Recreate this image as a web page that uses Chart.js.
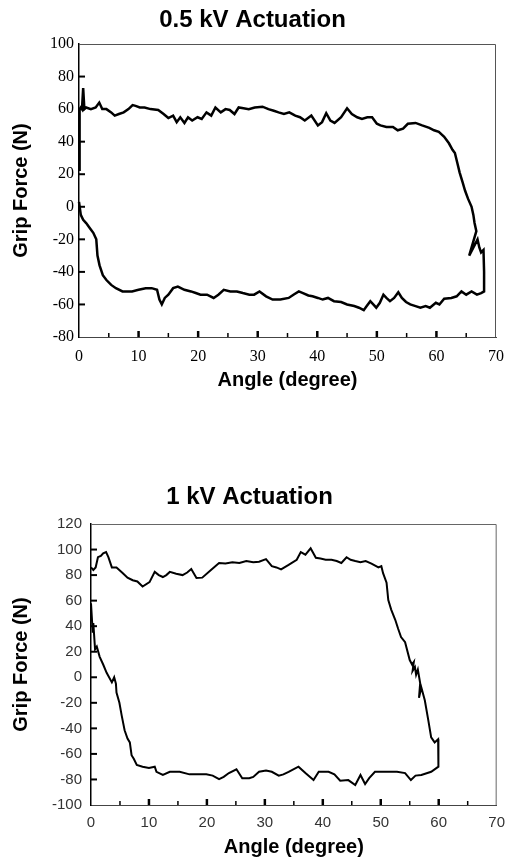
<!DOCTYPE html>
<html>
<head>
<meta charset="utf-8">
<script src="https://cdn.jsdelivr.net/npm/chart.js@4.4.1/dist/chart.umd.min.js"></script>
<style>
  body { margin: 0; background: #fff; width: 514px; height: 860px; overflow: hidden; }
  .caja { position: absolute; left: 0; width: 514px; height: 430px; }
</style>
</head>
<body>
<div class="caja" style="top:0"><canvas id="chartMedio"></canvas></div>
<div class="caja" style="top:430px"><canvas id="chartUno"></canvas></div>
<script>
// 0.5 kV loop (angle in degrees, grip force in N)
const anguloMedio = [
  0.1, 0.1, 0.3, 0.5, 0.7, 0.9, 1.2, 2.0, 2.8, 3.4,
  3.9, 4.6, 5.4, 6.0, 6.7, 7.5, 8.3, 9.0, 9.5, 10.2,
  11.0, 12.0, 13.3, 14.2, 15.0, 15.8, 16.4, 17.0, 17.7, 18.3,
  19.0, 19.9, 20.6, 21.4, 22.2, 22.9, 23.8, 24.6, 25.3, 26.1,
  26.8, 27.6, 28.5, 29.5, 30.8, 31.8, 32.7, 33.5, 34.4, 35.3,
  36.3, 37.1, 37.9, 39.0, 40.1, 40.8, 41.5, 42.2, 42.9, 44.0,
  45.0, 45.8, 46.7, 47.5, 48.4, 49.2, 50.0, 50.6, 51.6, 52.7,
  53.5, 54.4, 55.2, 56.5, 57.6, 58.8, 59.6, 60.4, 61.3, 62.1,
  62.7, 63.1, 63.5, 63.9, 64.4, 64.8, 65.3, 65.9, 66.2, 66.4,
  66.7, 65.5, 66.9, 67.2, 67.5, 67.9, 68.0, 68.0, 67.5, 66.8,
  65.9, 65.0, 64.2, 63.4, 62.5, 61.3, 60.5, 59.9, 58.9, 58.2,
  57.3, 56.5, 55.6, 54.9, 54.2, 53.6, 52.9, 52.2, 51.6, 51.1,
  50.5, 49.9, 49.4, 48.9, 48.3, 47.8, 47.0, 46.2, 45.0, 44.0,
  42.8, 41.8, 40.9, 40.1, 39.2, 38.5, 37.6, 36.9, 36.0, 35.2,
  33.8, 32.5, 31.4, 30.3, 29.4, 28.6, 27.5, 26.5, 25.4, 24.3,
  23.4, 22.6, 21.5, 20.4, 19.6, 18.8, 17.7, 16.6, 15.8, 15.0,
  14.4, 13.9, 13.5, 13.1, 12.2, 11.2, 10.0, 8.9, 8.0, 7.3,
  6.2, 5.4, 4.6, 4.0, 3.45, 3.1, 2.9, 2.4, 1.8, 1.2,
  0.7, 0.3, 0.0
];
const fuerzaMedio = [
  22, 60, 61, 60, 73, 60, 61, 60, 61, 64,
  60, 60, 58, 56, 57, 58, 60, 62.5, 62, 61,
  61, 60, 59.5, 57, 54.5, 56, 52, 55, 51.5, 55,
  53, 55, 54, 58, 56, 61, 58, 60, 59.5, 57,
  61, 60.5, 60, 61, 61.5, 60, 59, 58, 57, 58,
  56, 55, 53, 56, 50, 52, 57.5, 53, 51.5, 55,
  60.5, 57, 55, 54, 55, 55, 51, 50, 49, 49,
  47, 48, 51, 51.5, 50, 48.5, 47, 46, 43, 39,
  35, 33, 27, 21, 15, 10, 5, 0, -5, -10,
  -15, -30, -20, -25, -28, -26.5, -40, -52, -53, -54,
  -52, -54, -52, -55, -56, -56.5, -60, -59, -62, -61,
  -62, -61, -60, -58.5, -56, -52.5, -56, -58, -56, -54,
  -59, -62, -60, -58, -61, -63.5, -62, -61, -60, -58.5,
  -58, -56, -57, -56, -55, -54.5, -53, -52, -54, -56,
  -57, -57, -55, -52, -54, -54, -53, -52, -52, -51,
  -54, -56, -54, -54, -53, -52, -51, -49, -50, -54,
  -56, -60, -57, -51, -50, -50, -51, -52, -52, -52,
  -50, -48, -45, -42, -36, -30, -20, -16, -13, -10,
  -8, -5, 3
];

// 1 kV loop
const anguloUno = [
  0.0, 0.4, 0.8, 1.2, 1.7, 2.1, 2.6, 3.0, 3.6, 4.4,
  5.5, 6.3, 7.2, 8.0, 8.9, 10.1, 11.0, 11.7, 12.4, 13.0,
  13.6, 14.7, 15.8, 16.6, 17.3, 18.2, 19.2, 20.7, 22.1, 23.2,
  24.4, 25.6, 26.8, 28.0, 29.0, 30.2, 31.2, 32.0, 32.8, 34.1,
  35.5, 36.2, 37.0, 37.9, 38.8, 39.6, 40.5, 41.5, 42.4, 43.2,
  44.1, 44.8, 45.6, 46.5, 47.4, 48.4, 49.6, 50.1, 50.4, 51.0,
  51.3, 51.8, 52.5, 53.0, 53.5, 54.2, 55.0, 55.4, 55.7, 55.5,
  55.9, 56.1, 56.4, 56.8, 56.6, 57.0, 57.6, 58.2, 58.7, 59.3,
  59.9, 60.0, 59.9, 58.7, 57.0, 56.0, 55.2, 54.2, 52.8, 51.8,
  50.5, 49.0, 48.0, 47.3, 46.5, 45.6, 44.4, 43.0, 42.0, 41.0,
  40.0, 39.3, 38.4, 37.0, 35.8, 34.1, 33.2, 32.4, 31.2, 30.2,
  29.0, 28.0, 27.3, 26.1, 25.1, 23.8, 22.9, 22.1, 21.0, 19.9,
  18.5, 17.0, 15.3, 13.6, 12.4, 11.3, 11.0, 10.0, 8.9, 7.9,
  7.4, 7.0, 6.7, 6.3, 5.8, 5.3, 4.9, 4.4, 4.3, 4.0,
  3.6, 2.7, 2.1, 1.5, 1.0, 0.7, 0.4, 0.3, 0.0
];
const fuerzaUno = [
  86, 84, 86, 94, 95, 97, 98, 94, 86, 86,
  81.5, 78, 76, 75, 71, 74.5, 82.5, 80, 78.5, 80,
  82.5, 81, 80, 82, 84.7, 77.7, 78, 84, 89.5, 89,
  90, 89.5, 91, 90, 90.5, 92.5, 87, 86, 84.5, 88,
  92, 98, 96, 101, 93.5, 93, 92, 92, 91, 89.5,
  94, 92, 91, 90, 91, 89, 86, 87, 81.5, 74,
  60.5, 53, 45, 38, 31.5, 27.5, 13.5, 10, 12, 5,
  8, 2, 6, -4.5, -16, -8, -18, -33.5, -47, -51,
  -48.5, -70, -70, -74, -76.5, -77, -80.5, -75, -74, -74,
  -74, -74, -79, -83.6, -76.5, -84.4, -80.5, -81, -76, -74,
  -74, -74, -80.5, -75, -70, -74, -76, -77, -74, -73,
  -74, -78, -79, -79, -72, -75, -78, -79.7, -77, -76,
  -76, -76, -74, -74, -76.5, -74, -70, -71, -70, -68.7,
  -64, -61, -51, -48, -41.5, -30, -20, -12, -5, 0,
  -4, 3.5, 10, 16, 24, 22, 42.5, 35, 58
];

const marcoTicks = {
  id: 'marcoTicks',
  afterDatasetsDraw(chart, args, opts) {
    const {ctx, chartArea: a, scales: {x, y}} = chart;
    ctx.save();
    ctx.strokeStyle = opts.frame;
    ctx.lineWidth = 1;
    ctx.beginPath();
    ctx.moveTo(a.left, a.top + 0.5);
    ctx.lineTo(a.right - 0.5, a.top + 0.5);
    ctx.lineTo(a.right - 0.5, a.bottom);
    ctx.stroke();
    ctx.strokeStyle = '#000';
    for (let v = x.min + 5; v < x.max; v += 5) {
      const px = x.getPixelForValue(v);
      const mayor = v % 10 === 0;
      ctx.lineWidth = mayor ? 2.5 : 1.5;
      ctx.beginPath();
      ctx.moveTo(px, a.bottom);
      ctx.lineTo(px, a.bottom - (mayor ? 6 : 4));
      ctx.stroke();
    }
    ctx.lineWidth = 2;
    y.ticks.forEach(t => {
      if (t.value === y.min || t.value === y.max) return;
      const py = y.getPixelForValue(t.value);
      ctx.beginPath();
      ctx.moveTo(a.left, py);
      ctx.lineTo(a.left + 6, py);
      ctx.stroke();
    });
    ctx.restore();
  }
};

function crear(id, conf) {
  const datos = conf.angulos.map((a, i) => ({x: a, y: conf.fuerzas[i]}));
  return new Chart(document.getElementById(id), {
    type: 'scatter',
    data: {
      datasets: [{
        data: datos,
        showLine: true,
        borderColor: '#000',
        borderWidth: conf.grosor,
        pointRadius: 0,
        tension: 0,
        clip: 4
      }]
    },
    plugins: [marcoTicks],
    options: {
      responsive: true,
      maintainAspectRatio: false,
      animation: false,
      layout: {padding: {left: 0, right: conf.derecha, top: 0, bottom: 0}},
      plugins: {
        legend: {display: false},
        tooltip: {enabled: false},
        title: {
          display: true,
          text: conf.titulo,
          color: '#000',
          font: {family: 'Liberation Sans', size: 24, weight: 'bold'},
          padding: conf.tituloPad
        },
        marcoTicks: {frame: conf.marco}
      },
      scales: {
        x: {
          type: 'linear', min: 0, max: 70,
          ticks: {stepSize: 10, color: conf.colorTicks, font: conf.fuenteTicks, padding: conf.padX, maxRotation: 0},
          grid: {drawOnChartArea: false, drawTicks: false},
          border: {color: conf.ejeX, width: 1},
          title: {
            display: true, text: 'Angle (degree)', color: '#000',
            font: {family: 'Liberation Sans', size: 20, weight: 'bold'},
            padding: {top: 0, bottom: conf.padTituloX}
          },
          afterFit: s => { s.height = conf.altoX; }
        },
        y: {
          type: 'linear', min: conf.yMin, max: conf.yMax,
          ticks: {stepSize: 20, color: conf.colorTicks, font: conf.fuenteTicks, padding: conf.padY},
          grid: {drawOnChartArea: false, drawTicks: false},
          border: {color: '#000', width: 1.5},
          title: {
            display: true, text: 'Grip Force (N)', color: '#000',
            font: {family: 'Liberation Sans', size: 20, weight: 'bold'},
            padding: {top: 9, bottom: 0}
          },
          afterFit: s => { s.width = conf.anchoY; }
        }
      }
    }
  });
}

crear('chartMedio', {
  titulo: '0.5 kV Actuation',
  angulos: anguloMedio, fuerzas: fuerzaMedio,
  yMin: -80, yMax: 100,
  grosor: 2.5,
  derecha: 9,
  tituloPad: {top: 6, bottom: 9.2},
  anchoY: 79, altoX: 93,
  padX: 10, padY: 5, padTituloX: 38,
  colorTicks: '#000',
  fuenteTicks: {family: 'Liberation Serif', size: 16},
  marco: '#555', ejeX: '#444'
});

crear('chartUno', {
  titulo: '1 kV Actuation',
  angulos: anguloUno, fuerzas: fuerzaUno,
  yMin: -100, yMax: 120,
  grosor: 2,
  derecha: 15,
  tituloPad: {top: 52.6, bottom: 12.6},
  anchoY: 91, altoX: 55,
  padX: 9, padY: 9, padTituloX: 1,
  colorTicks: '#333',
  fuenteTicks: {family: 'Liberation Sans', size: 15},
  marco: '#666', ejeX: '#444'
});
</script>
</body>
</html>
